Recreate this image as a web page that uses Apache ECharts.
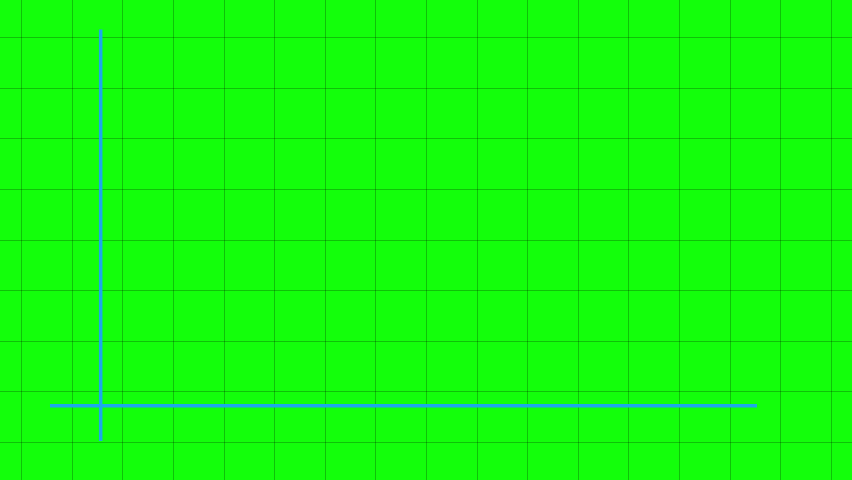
<!DOCTYPE html>
<html>
<head>
<meta charset="utf-8">
<script src="https://cdn.jsdelivr.net/npm/echarts@6/dist/echarts.min.js"></script>
<style>
html,body{margin:0;padding:0;background:#13ff0b;}
#chart{width:852px;height:480px;}
</style>
</head>
<body>
<div id="chart"></div>
<script>
// Grid extent in cell units (one cell = one grid square)
const xCells = [0, 16];
const yCells = [0, 8];
// Hand-drawn axis strokes, in cell units
const verticalAxisLine = [[1.565, 8.155], [1.565, 0.026]];
const horizontalAxisLine = [[0.563, 0.723], [14.535, 0.723]];

const chart = echarts.init(document.getElementById('chart'), null, {renderer: 'canvas'});
const gridLineStyle = {color: 'rgba(0,0,0,0.24)', width: 1};
const hidden = {axisLine: {show: false}, axisTick: {show: false}, axisLabel: {show: false}};
const L = 21.5, R = 20.9, T = 37.3, B = 37.7;
chart.setOption({
  backgroundColor: '#13ff0b',
  animation: false,
  grid: [
    {left: L, right: R, top: 0, bottom: 0},   // vertical grid lines, full height
    {left: 0, right: 0, top: T, bottom: B},   // horizontal grid lines, full width
    {left: L, right: R, top: T, bottom: B}    // plotting area for the strokes
  ],
  xAxis: [
    Object.assign({type: 'value', gridIndex: 0, min: xCells[0], max: xCells[1], interval: 1,
      splitLine: {show: true, lineStyle: gridLineStyle}}, hidden),
    Object.assign({type: 'value', gridIndex: 1, min: 0, max: 1,
      splitLine: {show: false}}, hidden),
    Object.assign({type: 'value', gridIndex: 2, min: xCells[0], max: xCells[1], interval: 1,
      splitLine: {show: false}}, hidden)
  ],
  yAxis: [
    Object.assign({type: 'value', gridIndex: 0, min: 0, max: 1,
      splitLine: {show: false}}, hidden),
    Object.assign({type: 'value', gridIndex: 1, min: yCells[0], max: yCells[1], interval: 1,
      splitLine: {show: true, lineStyle: gridLineStyle}}, hidden),
    Object.assign({type: 'value', gridIndex: 2, min: yCells[0], max: yCells[1], interval: 1,
      splitLine: {show: false}}, hidden)
  ],
  series: [
    {
      type: 'line', xAxisIndex: 2, yAxisIndex: 2, clip: false,
      data: verticalAxisLine, symbol: 'none',
      lineStyle: {color: '#1ca8ec', width: 3.5, cap: 'butt'}
    },
    {
      type: 'line', xAxisIndex: 2, yAxisIndex: 2, clip: false,
      data: horizontalAxisLine, symbol: 'none',
      lineStyle: {color: '#1ca8ec', width: 3.5, cap: 'butt'}
    }
  ]
});
</script>
</body>
</html>
